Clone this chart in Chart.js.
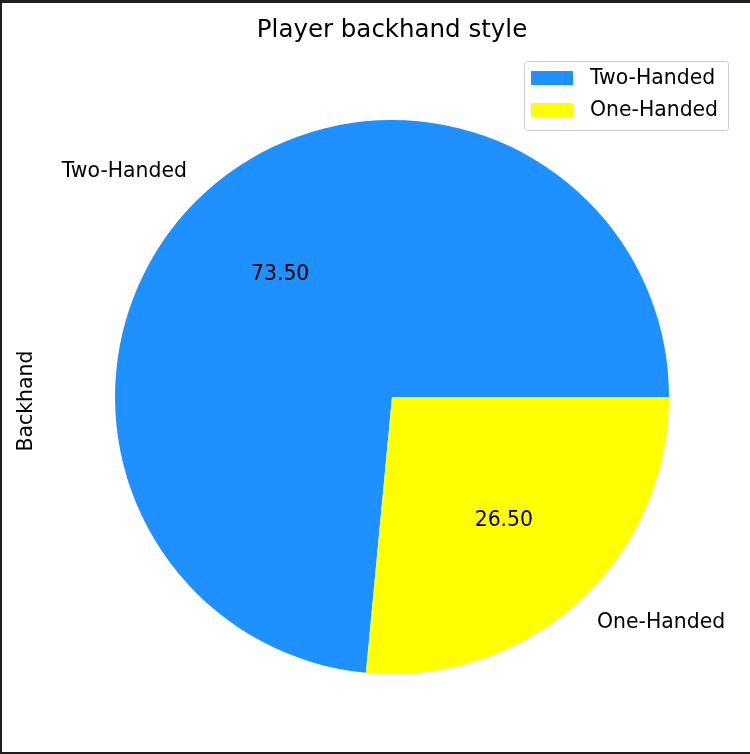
<!DOCTYPE html>
<html>
<head>
<meta charset="utf-8">
<script src="https://cdn.jsdelivr.net/npm/chart.js@4/dist/chart.umd.min.js"></script>
<style>
html,body{margin:0;padding:0;background:#fff;}
#wrap{width:750px;height:754px;}
</style>
</head>
<body>
<div id="wrap"><canvas id="c" width="750" height="754"></canvas></div>
<script>
const categories = ["Two-Handed", "One-Handed"];
const values = [73.5, 26.5];
const colors = ["#1E90FF", "#FFFF00"];
const chartTitle = "Player backhand style";
const yLabel = "Backhand";

const FONT = "'DejaVu Sans', sans-serif";
const LBL = "20.4px " + FONT;
const total = values.reduce((a, b) => a + b, 0);
// matplotlib-style: first slice starts at east and runs counter-clockwise
const rotation = 90 + 360 * (total - values[0]) / total;

const mplPlugin = {
  id: 'mpl',
  afterDatasetsDraw(chart) {
    const ctx = chart.ctx;
    const meta = chart.getDatasetMeta(0);
    ctx.save();
    ctx.fillStyle = '#000';
    ctx.font = LBL;
    ctx.textBaseline = 'middle';
    meta.data.forEach((arc, i) => {
      const p = arc.getProps(['x', 'y', 'startAngle', 'endAngle', 'outerRadius'], true);
      const mid = (p.startAngle + p.endAngle) / 2;
      const r = p.outerRadius;
      ctx.textAlign = 'center';
      ctx.fillText(values[i].toFixed(2), p.x + Math.cos(mid) * r * 0.6, p.y + Math.sin(mid) * r * 0.6 + 1);
      const lx = p.x + Math.cos(mid) * r * 1.1;
      const ly = p.y + Math.sin(mid) * r * 1.1;
      ctx.textAlign = Math.cos(mid) < 0 ? 'right' : 'left';
      ctx.fillText(categories[i], lx, ly);
    });
    // title
    ctx.textAlign = 'center';
    ctx.font = "24.5px " + FONT;
    ctx.fillText(chartTitle, 392, 31);
    // y label
    ctx.save();
    ctx.translate(27, 401);
    ctx.rotate(-Math.PI / 2);
    ctx.font = LBL;
    ctx.fillText(yLabel, 0, 0);
    ctx.restore();
    // legend
    const lx0 = 524.5, ly0 = 61.5, lw = 204, lh = 69;
    ctx.fillStyle = 'rgba(255,255,255,0.8)';
    ctx.strokeStyle = '#cccccc';
    ctx.lineWidth = 1;
    ctx.beginPath();
    ctx.roundRect(lx0, ly0, lw, lh, 3);
    ctx.fill();
    ctx.stroke();
    ctx.font = LBL;
    ctx.textAlign = 'left';
    categories.forEach((c, i) => {
      const cy = 78 + i * 32;
      ctx.fillStyle = colors[i];
      ctx.fillRect(531, cy - 7, 42, 14);
      ctx.fillStyle = '#000';
      ctx.fillText(c, 590, cy + 1);
    });
    // outer frame
    ctx.fillStyle = '#1e1e1e';
    ctx.fillRect(0, 0, 750, 3);
    ctx.fillRect(0, 0, 2, 754);
    ctx.fillRect(0, 752, 750, 2);
    ctx.restore();
  }
};

new Chart(document.getElementById('c'), {
  type: 'pie',
  data: {
    labels: categories,
    datasets: [{
      data: values,
      backgroundColor: colors,
      borderWidth: 0
    }]
  },
  options: {
    responsive: false,
    animation: false,
    rotation: rotation,
    layout: { padding: { left: 115, right: 81, top: 120, bottom: 80 } },
    plugins: { legend: { display: false }, title: { display: false }, tooltip: { enabled: false } }
  },
  plugins: [mplPlugin]
});
</script>
</body>
</html>
